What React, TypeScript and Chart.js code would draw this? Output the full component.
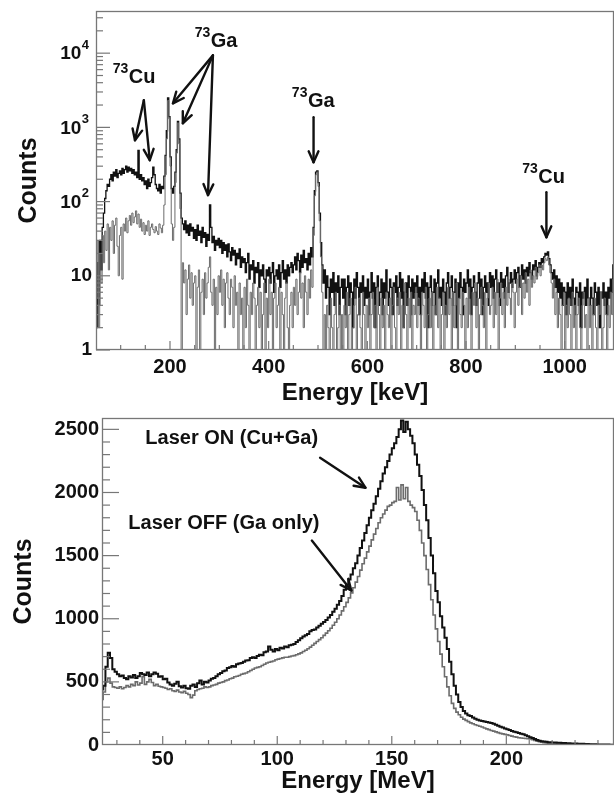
import React, { useEffect, useRef } from "react";
import { Chart, registerables } from "chart.js";

Chart.register(...registerables);

const FONT = '"Liberation Sans", Arial, Helvetica, sans-serif';
const INK = "#111111";
const GREY_LINE = "#6c6c6c";
const AXIS = "#777777";

// ---------- Top panel: gamma spectrum (2.5 keV bins from 50 keV, 20 bins per row) ----------
const TOP_BIN_START = 50;
const TOP_BIN_WIDTH = 2.5;
const TOP_X_MIN = 50;
const TOP_X_MAX = 1100;
const TOP_Y_MIN = 1;
const TOP_Y_MAX = 37000;
const TOP_X_TICKS = [200, 400, 600, 800, 1000];
const TOP_Y_TICKS = [1, 10, 100, 1000, 10000];

const TOP_LASER_ON = [
  2, 15, 4, 30, 12, 45, 70, 110, 140, 170, 160, 200, 230, 190, 250, 220, 270, 210, 240, 260, // 50
  230, 280, 240, 270, 300, 250, 290, 260, 280, 240, 270, 230, 250, 210, 490, 200, 230, 190, 210, 170, // 100
  190, 150, 200, 160, 180, 210, 290, 230, 170, 150, 140, 170, 130, 160, 150, 220, 420, 900, 2500, 1400, // 150
  400, 150, 130, 160, 250, 500, 1200, 700, 130, 60, 50, 42, 55, 38, 48, 35, 50, 40, 45, 32, // 200
  42, 30, 48, 35, 40, 28, 45, 33, 38, 25, 36, 30, 90, 45, 28, 34, 22, 30, 26, 32, // 250
  24, 30, 20, 28, 22, 26, 18, 27, 21, 16, 24, 19, 22, 14, 20, 17, 23, 13, 18, 15, // 300
  17, 11, 15, 20, 9, 14, 12, 16, 8, 13, 11, 15, 7, 12, 10, 14, 9, 6, 12, 10, // 350
  13, 8, 11, 15, 6, 10, 12, 9, 14, 7, 11, 16, 9, 12, 8, 14, 10, 13, 15, 11, // 400
  14, 18, 12, 20, 16, 11, 19, 13, 22, 15, 17, 12, 20, 14, 24, 18, 45, 140, 250, 260, // 450
  180, 70, 28, 14, 8, 12, 5, 10, 7, 3, 9, 6, 11, 4, 8, 6, 10, 3, 7, 9, // 500
  5, 9, 3, 7, 10, 4, 8, 6, 2, 9, 5, 11, 7, 3, 8, 6, 10, 4, 7, 5, // 550
  9, 3, 6, 11, 5, 8, 2, 7, 10, 4, 6, 9, 3, 8, 5, 12, 6, 4, 9, 7, // 600
  3, 8, 6, 10, 4, 7, 11, 5, 9, 2, 6, 8, 4, 10, 7, 3, 9, 5, 8, 6, // 650
  10, 4, 7, 3, 9, 6, 11, 5, 8, 2, 7, 10, 4, 6, 9, 3, 8, 12, 5, 7, // 700
  4, 9, 6, 3, 8, 11, 5, 7, 10, 4, 6, 9, 2, 8, 5, 11, 7, 3, 9, 6, // 750
  8, 12, 5, 9, 3, 7, 10, 6, 4, 8, 11, 5, 9, 3, 7, 10, 6, 8, 4, 11, // 800
  7, 10, 5, 9, 12, 6, 8, 4, 11, 7, 9, 5, 10, 13, 6, 8, 11, 7, 9, 12, // 850
  8, 11, 13, 7, 10, 14, 9, 12, 8, 13, 10, 15, 11, 9, 14, 12, 16, 10, 13, 15, // 900
  13, 17, 15, 18, 20, 19, 21, 17, 14, 11, 9, 12, 7, 10, 6, 9, 5, 8, 4, 7, // 950
  6, 3, 8, 5, 7, 4, 9, 5, 3, 7, 6, 4, 8, 2, 6, 5, 7, 4, 9, 5, // 1000
  4, 7, 5, 3, 8, 6, 4, 7, 2, 6, 5, 8, 4, 6, 3, 7, 5, 9, 6, 14, // 1050
];

const TOP_LASER_OFF = [
  5, 30, 2, 20, 8, 35, 15, 40, 22, 50, 12, 45, 30, 55, 20, 48, 60, 25, 10, 35, // 50
  45, 9, 50, 40, 60, 38, 55, 65, 48, 70, 52, 62, 75, 50, 68, 45, 58, 40, 52, 36, // 100
  48, 40, 55, 35, 45, 50, 42, 38, 46, 40, 36, 50, 44, 38, 48, 90, 230, 700, 2300, 1300, // 150
  300, 50, 30, 45, 180, 450, 1150, 600, 80, 1, 15, 8, 12, 3, 9, 14, 5, 11, 4, 8, // 200
  10, 1, 7, 12, 1, 6, 9, 3, 11, 5, 8, 13, 18, 6, 4, 9, 1, 7, 3, 10, // 250
  6, 12, 4, 9, 2, 8, 11, 5, 3, 9, 7, 2, 10, 4, 6, 1, 8, 3, 5, 1, // 300
  7, 2, 9, 4, 1, 6, 3, 8, 5, 1, 4, 7, 2, 6, 1, 3, 8, 1, 5, 2, // 350
  9, 3, 6, 1, 5, 8, 2, 4, 7, 1, 6, 3, 1, 5, 8, 2, 1, 4, 6, 2, // 400
  7, 4, 9, 3, 6, 11, 5, 8, 2, 10, 6, 3, 9, 5, 12, 7, 35, 120, 230, 250, // 450
  160, 55, 18, 6, 1, 3, 1, 4, 2, 1, 5, 2, 1, 3, 6, 1, 2, 4, 1, 3, // 500
  1, 4, 2, 6, 1, 3, 5, 1, 2, 4, 7, 1, 3, 5, 2, 1, 6, 3, 1, 4, // 550
  2, 5, 1, 3, 6, 2, 4, 1, 7, 3, 1, 5, 2, 4, 1, 6, 3, 2, 5, 1, // 600
  4, 7, 2, 1, 5, 3, 6, 1, 4, 2, 8, 3, 1, 5, 2, 6, 1, 4, 3, 7, // 650
  2, 5, 3, 1, 6, 4, 2, 7, 1, 3, 5, 2, 6, 1, 4, 3, 7, 2, 5, 1, // 700
  3, 6, 1, 4, 2, 7, 3, 5, 1, 6, 2, 4, 8, 1, 5, 3, 2, 6, 4, 1, // 750
  5, 2, 7, 3, 1, 6, 4, 8, 2, 5, 1, 3, 7, 4, 2, 6, 1, 5, 8, 3, // 800
  4, 7, 2, 6, 3, 9, 1, 5, 8, 3, 6, 2, 7, 4, 9, 5, 3, 8, 6, 2, // 850
  6, 9, 4, 7, 10, 3, 8, 5, 11, 6, 9, 4, 12, 7, 10, 8, 13, 9, 11, 14, // 900
  10, 14, 12, 15, 17, 16, 18, 14, 11, 8, 5, 9, 3, 6, 2, 5, 3, 1, 4, 6, // 950
  1, 4, 2, 5, 3, 1, 6, 2, 4, 1, 3, 5, 2, 1, 4, 6, 2, 3, 1, 5, // 1000
  2, 4, 1, 3, 5, 2, 1, 4, 3, 6, 1, 2, 5, 3, 1, 4, 2, 6, 3, 9, // 1050
];

// annotations (data coordinates: keV, counts)
const TOP_LABELS = [
  { sup: "73", text: "Cu", x: 84, y: 3926 },
  { sup: "73", text: "Ga", x: 250, y: 11970 },
  { sup: "73", text: "Ga", x: 447, y: 1865 },
  { sup: "73", text: "Cu", x: 914, y: 177 },
];
const TOP_ARROWS = [
  { x1: 147, y1: 2316, x2: 129, y2: 670 },
  { x1: 147, y1: 2316, x2: 159, y2: 361 },
  { x1: 287, y1: 9340, x2: 206, y2: 2110 },
  { x1: 287, y1: 9340, x2: 226, y2: 1136 },
  { x1: 287, y1: 9340, x2: 277, y2: 122 },
  { x1: 491, y1: 1368, x2: 491, y2: 339 },
  { x1: 963, y1: 134, x2: 963, y2: 33 },
];

// ---------- Bottom panel: energy spectrum (1 MeV bins from 23 MeV) ----------
const BOT_BIN_START = 23;
const BOT_BIN_WIDTH = 1;
const BOT_X_MIN = 23.5;
const BOT_X_MAX = 247;
const BOT_Y_MIN = 0;
const BOT_Y_MAX = 2590;
const BOT_X_TICKS = [50, 100, 150, 200];
const BOT_Y_TICKS = [0, 500, 1000, 1500, 2000, 2500];

const BOT_LASER_ON = [
  440, 470, 620, 730, 690, 600, 580, 560, 545, 550, // 23-32
  530, 520, 545, 535, 555, 530, 545, 570, 560, 555, // 33-42
  575, 545, 560, 575, 565, 540, 545, 520, 525, 495, // 43-52
  480, 470, 485, 500, 465, 455, 470, 450, 445, 470, // 53-62
  480, 460, 490, 510, 480, 500, 495, 510, 525, 530, // 63-72
  545, 560, 570, 585, 590, 610, 615, 625, 620, 640, // 73-82
  645, 650, 660, 670, 672, 690, 695, 690, 705, 715, // 83-92
  710, 735, 740, 780, 755, 740, 760, 750, 770, 765, // 93-102
  780, 775, 790, 795, 800, 815, 830, 845, 860, 870, // 103-112
  880, 900, 910, 915, 930, 945, 960, 975, 990, 1010, // 113-122
  1030, 1055, 1080, 1110, 1140, 1180, 1230, 1270, 1310, 1350, // 123-132
  1400, 1440, 1500, 1560, 1620, 1680, 1740, 1800, 1860, 1910, // 133-142
  1970, 2030, 2090, 2150, 2200, 2250, 2300, 2350, 2390, 2440, // 143-152
  2500, 2570, 2480, 2560, 2500, 2450, 2390, 2300, 2220, 2130, // 153-162
  2020, 1900, 1780, 1640, 1500, 1360, 1220, 1130, 1020, 930, // 163-172
  850, 760, 660, 560, 470, 400, 340, 300, 270, 250, // 173-182
  235, 230, 218, 208, 200, 195, 190, 186, 182, 178, // 183-192
  175, 168, 160, 152, 145, 138, 130, 125, 118, 110, // 193-202
  105, 100, 95, 90, 85, 78, 70, 62, 55, 48, // 203-212
  40, 34, 30, 28, 25, 22, 21, 20, 19, 18, // 213-222
  17, 16, 15, 14, 13, 12, 12, 11, 10, 9, // 223-232
  9, 8, 7, 6, 6, 5, 5, 4, 4, 3, // 233-242
  3, 3, 2, 2, // 243-246
];

const BOT_LASER_OFF = [
  360, 420, 500, 530, 490, 460, 455, 450, 460, 445, // 23-32
  455, 470, 460, 480, 470, 500, 475, 490, 540, 480, // 33-42
  500, 520, 495, 470, 480, 465, 460, 455, 450, 440, // 43-52
  445, 430, 425, 435, 420, 415, 425, 410, 400, 375, // 53-62
  395, 430, 440, 445, 450, 460, 455, 460, 470, 475, // 63-72
  480, 490, 495, 500, 510, 515, 525, 530, 540, 545, // 73-82
  550, 560, 565, 570, 580, 590, 600, 610, 615, 620, // 83-92
  630, 640, 650, 655, 660, 665, 675, 680, 685, 690, // 93-102
  695, 695, 700, 705, 708, 715, 722, 730, 740, 750, // 103-112
  762, 775, 790, 805, 820, 835, 850, 868, 886, 905, // 113-122
  925, 948, 972, 1000, 1030, 1062, 1095, 1130, 1165, 1205, // 123-132
  1245, 1290, 1335, 1385, 1435, 1480, 1530, 1575, 1625, 1670, // 133-142
  1715, 1760, 1800, 1830, 1860, 1890, 1900, 1920, 1930, 2040, // 143-152
  1940, 2060, 1950, 2040, 1930, 1900, 1880, 1850, 1780, 1700, // 153-162
  1600, 1500, 1390, 1270, 1150, 1030, 920, 820, 720, 620, // 163-172
  540, 460, 390, 330, 290, 260, 240, 220, 205, 195, // 173-182
  185, 175, 168, 160, 155, 148, 142, 135, 128, 122, // 183-192
  115, 110, 104, 98, 92, 88, 84, 80, 75, 70, // 193-202
  65, 62, 58, 56, 54, 52, 50, 47, 42, 36, // 203-212
  30, 26, 22, 19, 17, 15, 14, 12, 11, 10, // 213-222
  9, 9, 8, 7, 7, 6, 6, 5, 5, 4, // 223-232
  4, 3, 3, 3, 2, 2, 2, 2, 1, 1, // 233-242
  1, 1, 1, 1, // 243-246
];

const BOT_LABELS = [
  { text: "Laser ON (Cu+Ga)", x: 42.4, y: 2385 },
  { text: "Laser OFF (Ga only)", x: 35, y: 1714 },
];
const BOT_ARROWS = [
  { x1: 118.7, y1: 2275, x2: 138.5, y2: 2038 },
  { x1: 115.1, y1: 1619, x2: 132.3, y2: 1224 },
];

// ---------- helpers ----------
function steps(start: number, width: number, vals: number[]) {
  const pts = vals.map((v, i) => ({ x: start + i * width, y: v }));
  pts.push({ x: start + vals.length * width, y: vals[vals.length - 1] });
  return pts;
}

function seg(ctx: CanvasRenderingContext2D, x1: number, y1: number, x2: number, y2: number) {
  ctx.beginPath();
  ctx.moveTo(x1, y1);
  ctx.lineTo(x2, y2);
  ctx.stroke();
}

function drawArrow(ctx: CanvasRenderingContext2D, x1: number, y1: number, x2: number, y2: number) {
  ctx.save();
  ctx.strokeStyle = INK;
  ctx.lineWidth = 2.4;
  ctx.lineCap = "round";
  ctx.lineJoin = "round";
  seg(ctx, x1, y1, x2, y2);
  const ang = Math.atan2(y2 - y1, x2 - x1);
  const h = 12;
  const w = 0.42;
  ctx.beginPath();
  ctx.moveTo(x2 - h * Math.cos(ang - w), y2 - h * Math.sin(ang - w));
  ctx.lineTo(x2, y2);
  ctx.lineTo(x2 - h * Math.cos(ang + w), y2 - h * Math.sin(ang + w));
  ctx.stroke();
  ctx.restore();
}

function drawFrame(chart: any) {
  const { ctx, chartArea: a } = chart;
  ctx.save();
  ctx.strokeStyle = AXIS;
  ctx.lineWidth = 1.3;
  ctx.strokeRect(a.left + 0.5, a.top + 0.5, a.right - a.left - 1, a.bottom - a.top - 1);
  ctx.restore();
}

const topDecor = {
  id: "topDecor",
  afterDraw(chart: any) {
    const { ctx, chartArea: a, scales } = chart;
    const xs = scales.x;
    const ys = scales.y;
    drawFrame(chart);
    ctx.save();
    ctx.strokeStyle = AXIS;
    ctx.lineWidth = 1.2;
    // x ticks (inside)
    for (let e = 100; e <= TOP_X_MAX; e += 50) {
      const px = xs.getPixelForValue(e);
      if (px <= a.left + 1 || px >= a.right - 1) continue;
      const len = TOP_X_TICKS.includes(e) ? 9 : 5;
      seg(ctx, px, a.bottom, px, a.bottom - len);
    }
    // y ticks (log, inside)
    for (let d = 0; d <= 4; d++) {
      for (let m = 1; m <= 9; m++) {
        const v = m * Math.pow(10, d);
        if (v > TOP_Y_MAX) break;
        const py = ys.getPixelForValue(v);
        const len = m === 1 ? 14 : 7;
        seg(ctx, a.left, py, a.left + len, py);
      }
    }
    // y labels with superscripts
    ctx.fillStyle = INK;
    ctx.textBaseline = "middle";
    ctx.textAlign = "right";
    for (const v of TOP_Y_TICKS) {
      const py = ys.getPixelForValue(v);
      const exp = Math.round(Math.log10(v));
      if (exp < 2) {
        ctx.font = `bold 19px ${FONT}`;
        ctx.fillText(String(v), a.left - 4, py);
      } else {
        ctx.font = `bold 13px ${FONT}`;
        const es = String(exp);
        ctx.fillText(es, a.left - 7, py - 8);
        const w = ctx.measureText(es).width;
        ctx.font = `bold 19px ${FONT}`;
        ctx.fillText("10", a.left - 7 - w - 0.5, py + 1);
      }
    }
    // annotations
    for (const ar of TOP_ARROWS) {
      drawArrow(
        ctx,
        xs.getPixelForValue(ar.x1), ys.getPixelForValue(ar.y1),
        xs.getPixelForValue(ar.x2), ys.getPixelForValue(ar.y2)
      );
    }
    ctx.textAlign = "left";
    ctx.textBaseline = "alphabetic";
    for (const lb of TOP_LABELS) {
      const px = xs.getPixelForValue(lb.x);
      const py = ys.getPixelForValue(lb.y);
      ctx.font = `bold 14px ${FONT}`;
      ctx.fillText(lb.sup, px, py - 10);
      const w = ctx.measureText(lb.sup).width;
      ctx.font = `bold 20px ${FONT}`;
      ctx.fillText(lb.text, px + w + 0.5, py);
    }
    ctx.restore();
  },
};

const botDecor = {
  id: "botDecor",
  afterDraw(chart: any) {
    const { ctx, chartArea: a, scales } = chart;
    const xs = scales.x;
    const ys = scales.y;
    drawFrame(chart);
    ctx.save();
    ctx.strokeStyle = AXIS;
    ctx.lineWidth = 1.2;
    for (let e = 30; e <= 240; e += 10) {
      const px = xs.getPixelForValue(e);
      if (px <= a.left + 1 || px >= a.right - 1) continue;
      const len = BOT_X_TICKS.includes(e) ? 9 : 5;
      seg(ctx, px, a.bottom, px, a.bottom - len);
    }
    for (let c = 100; c <= 2500; c += 100) {
      const py = ys.getPixelForValue(c);
      const len = BOT_Y_TICKS.includes(c) ? 17 : 8;
      seg(ctx, a.left, py, a.left + len, py);
    }
    for (const ar of BOT_ARROWS) {
      drawArrow(
        ctx,
        xs.getPixelForValue(ar.x1), ys.getPixelForValue(ar.y1),
        xs.getPixelForValue(ar.x2), ys.getPixelForValue(ar.y2)
      );
    }
    ctx.fillStyle = INK;
    ctx.textAlign = "left";
    ctx.textBaseline = "alphabetic";
    ctx.font = `bold 20px ${FONT}`;
    for (const lb of BOT_LABELS) {
      ctx.fillText(lb.text, xs.getPixelForValue(lb.x), ys.getPixelForValue(lb.y));
    }
    ctx.restore();
  },
};

const tickFont = { family: FONT, size: 20, weight: "bold" as const };
const titleFont = { family: FONT, size: 24, weight: "bold" as const };
const yTitleFont = { family: FONT, size: 25, weight: "bold" as const };

function topConfig(): any {
  return {
    type: "line",
    data: {
      datasets: [
        {
          label: "Laser OFF",
          data: steps(TOP_BIN_START, TOP_BIN_WIDTH, TOP_LASER_OFF),
          borderColor: GREY_LINE,
          borderWidth: 1,
          stepped: true,
          pointRadius: 0,
          fill: false,
        },
        {
          label: "Laser ON",
          data: steps(TOP_BIN_START, TOP_BIN_WIDTH, TOP_LASER_ON),
          borderColor: INK,
          borderWidth: 1.3,
          stepped: true,
          pointRadius: 0,
          fill: false,
        },
      ],
    },
    options: {
      animation: false,
      responsive: true,
      maintainAspectRatio: false,
      devicePixelRatio: 1,
      events: [],
      layout: { padding: { top: 11, right: 0, left: 0, bottom: 0 } },
      plugins: { legend: { display: false }, tooltip: { enabled: false } },
      scales: {
        x: {
          type: "linear",
          min: TOP_X_MIN,
          max: TOP_X_MAX,
          grid: { display: false, drawTicks: false },
          border: { display: false },
          afterBuildTicks: (s: any) => {
            s.ticks = TOP_X_TICKS.map((v) => ({ value: v }));
          },
          afterFit: (s: any) => {
            s.height = 62;
            s.paddingLeft = 0;
            s.paddingRight = 0;
          },
          ticks: {
            color: INK,
            font: tickFont,
            padding: 5,
            maxRotation: 0,
            autoSkip: false,
            callback: (v: any) => String(v),
          },
          title: {
            display: true,
            text: "Energy [keV]",
            color: INK,
            font: titleFont,
            padding: { top: 0, bottom: 4 },
          },
        },
        y: {
          type: "logarithmic",
          min: TOP_Y_MIN,
          max: TOP_Y_MAX,
          grid: { display: false, drawTicks: false },
          border: { display: false },
          afterBuildTicks: (s: any) => {
            s.ticks = TOP_Y_TICKS.map((v) => ({ value: v }));
          },
          afterFit: (s: any) => {
            s.width = 96;
            s.paddingTop = 0;
            s.paddingBottom = 0;
          },
          ticks: { display: false },
          title: {
            display: true,
            text: "Counts",
            color: INK,
            font: yTitleFont,
            padding: { top: 14, bottom: 0 },
          },
        },
      },
    },
    plugins: [topDecor],
  };
}

function botConfig(): any {
  return {
    type: "line",
    data: {
      datasets: [
        {
          label: "Laser ON (Cu+Ga)",
          data: steps(BOT_BIN_START, BOT_BIN_WIDTH, BOT_LASER_ON),
          borderColor: INK,
          borderWidth: 2,
          stepped: true,
          pointRadius: 0,
          fill: false,
        },
        {
          label: "Laser OFF (Ga only)",
          data: steps(BOT_BIN_START, BOT_BIN_WIDTH, BOT_LASER_OFF),
          borderColor: GREY_LINE,
          borderWidth: 1.6,
          stepped: true,
          pointRadius: 0,
          fill: false,
        },
      ],
    },
    options: {
      animation: false,
      responsive: true,
      maintainAspectRatio: false,
      devicePixelRatio: 1,
      events: [],
      layout: { padding: { top: 6, right: 0, left: 0, bottom: 0 } },
      plugins: { legend: { display: false }, tooltip: { enabled: false } },
      scales: {
        x: {
          type: "linear",
          min: BOT_X_MIN,
          max: BOT_X_MAX,
          grid: { display: false, drawTicks: false },
          border: { display: false },
          afterBuildTicks: (s: any) => {
            s.ticks = BOT_X_TICKS.map((v) => ({ value: v }));
          },
          afterFit: (s: any) => {
            s.height = 53;
            s.paddingLeft = 0;
            s.paddingRight = 0;
          },
          ticks: {
            color: INK,
            font: tickFont,
            padding: 2,
            maxRotation: 0,
            autoSkip: false,
            callback: (v: any) => String(v),
          },
          title: {
            display: true,
            text: "Energy [MeV]",
            color: INK,
            font: titleFont,
            padding: { top: 0, bottom: 2 },
          },
        },
        y: {
          type: "linear",
          min: BOT_Y_MIN,
          max: BOT_Y_MAX,
          grid: { display: false, drawTicks: false },
          border: { display: false },
          afterBuildTicks: (s: any) => {
            s.ticks = BOT_Y_TICKS.map((v) => ({ value: v }));
          },
          afterFit: (s: any) => {
            s.width = 102;
            s.paddingTop = 0;
            s.paddingBottom = 0;
          },
          ticks: {
            color: INK,
            font: tickFont,
            padding: 3,
            autoSkip: false,
            callback: (v: any) => String(v),
          },
          title: {
            display: true,
            text: "Counts",
            color: INK,
            font: yTitleFont,
            padding: { top: 9, bottom: 0 },
          },
        },
      },
    },
    plugins: [botDecor],
  };
}

export default function App() {
  const topRef = useRef<HTMLCanvasElement | null>(null);
  const botRef = useRef<HTMLCanvasElement | null>(null);

  useEffect(() => {
    const c1 = new Chart(topRef.current as HTMLCanvasElement, topConfig());
    const c2 = new Chart(botRef.current as HTMLCanvasElement, botConfig());
    return () => {
      c1.destroy();
      c2.destroy();
    };
  }, []);

  return (
    <div style={{ position: "absolute", left: 0, top: 0, width: 614, height: 798, background: "#ffffff" }}>
      <div style={{ position: "absolute", left: 0, top: 0, width: 614, height: 412 }}>
        <canvas ref={topRef} />
      </div>
      <div style={{ position: "absolute", left: 0, top: 412, width: 614, height: 386 }}>
        <canvas ref={botRef} />
      </div>
    </div>
  );
}
